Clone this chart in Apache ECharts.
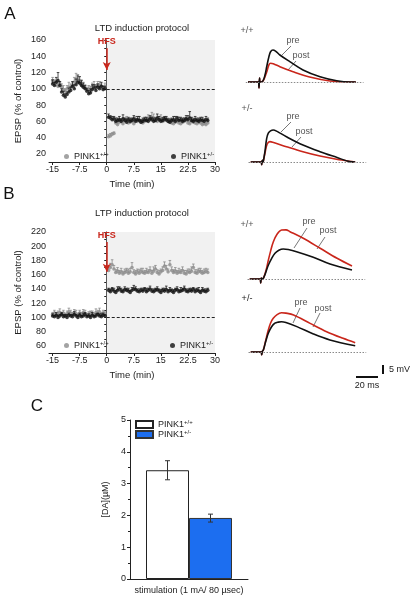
<!DOCTYPE html>
<html><head><meta charset="utf-8">
<script src="https://cdn.jsdelivr.net/npm/echarts@6/dist/echarts.min.js"></script>
<style>html,body{margin:0;padding:0;background:#fff}#c{width:414px;height:600px}</style>
</head><body><div id="c"></div>
<script>
// ---------- DATA ----------
const tPre = [-15,-14.5,-14,-13.5,-13,-12.5,-12,-11.5,-11,-10.5,-10,-9.5,-9,-8.5,-8,-7.5,-7,-6.5,-6,-5.5,-5,-4.5,-4,-3.5,-3,-2.5,-2,-1.5,-1,-0.5];
const tPost = [0.5,1,1.5,2,2.5,3,3.5,4,4.5,5,5.5,6,6.5,7,7.5,8,8.5,9,9.5,10,10.5,11,11.5,12,12.5,13,13.5,14,14.5,15,15.5,16,16.5,17,17.5,18,18.5,19,19.5,20,20.5,21,21.5,22,22.5,23,23.5,24,24.5,25,25.5,26,26.5,27,27.5,28];
const timeTicks = [-15,-7.5,0,7.5,15,22.5,30];

// LTD (panel A) values and upper error (SEM)
const ltdWtPre  = [110,108,105,103,106,102,99,97,100,102,101,104,108,112,110,107,105,103,101,99,100,98,103,104,102,105,104,102,101,103];
const ltdHetPre = [106,104,108,110,104,96,92,90,93,96,98,103,100,105,108,107,104,102,100,97,94,95,99,101,98,102,100,103,99,100];
const ltdWtPost = [41,42,44,45,58,56,59,60,57,61,62,58,59,60,57,61,60,62,59,58,60,61,63,62,65,64,61,60,62,63,60,61,62,60,59,58,57,59,60,58,57,59,60,61,58,57,60,59,58,57,59,58,56,57,56,58];
const ltdHetPost = [65,64,62,63,60,61,62,60,63,61,59,62,60,61,63,60,62,61,59,60,62,61,60,63,62,60,61,64,62,60,61,63,62,60,59,61,62,60,63,61,62,60,61,63,62,64,61,60,62,61,60,62,61,60,62,61];
const ltdWtPreErr  = [4,3,5,4,3,4,5,3,4,6,5,4,6,7,5,4,6,5,4,3,4,5,4,5,3,4,5,4,3,4];
const ltdHetPreErr = [5,4,6,10,5,4,5,4,3,5,4,6,5,7,9,8,6,5,4,3,4,5,6,4,5,4,3,5,4,3];
const ltdWtPostErr = [3,3,2,2,4,3,4,3,4,3,4,3,4,3,4,5,3,4,3,4,3,4,5,4,6,5,4,3,4,5,3,4,3,4,3,4,3,4,5,3,4,3,4,3,4,3,4,5,3,4,3,4,3,4,3,4];
const ltdHetPostErr = [4,3,4,3,4,3,4,3,5,3,4,3,4,3,4,3,4,5,3,4,3,4,3,4,3,4,3,5,4,3,4,3,4,3,4,3,4,6,3,4,3,4,3,4,5,8,4,3,4,3,4,3,4,3,4,3];

// LTP (panel B)
const ltpWtPre  = [104,106,103,105,107,104,106,103,105,108,106,104,107,105,103,106,104,107,105,103,104,106,105,103,107,106,108,104,106,105];
const ltpHetPre = [102,101,103,100,102,104,101,102,100,103,102,101,104,102,100,103,101,102,104,101,102,100,103,101,102,104,102,101,103,102];
const ltpWtPost = [166,170,174,168,163,165,162,164,161,163,165,162,164,170,163,161,164,162,165,163,162,164,163,166,162,165,168,163,161,164,166,172,168,164,174,166,163,165,162,164,163,166,162,161,164,163,165,170,163,162,165,164,162,163,165,163];
const ltpHetPost = [138,136,139,137,135,138,140,137,136,139,138,137,135,138,140,139,137,136,138,137,139,136,138,140,137,136,138,139,137,135,138,137,139,136,138,137,135,138,139,136,137,138,140,137,136,138,137,139,136,138,137,135,138,137,136,138];
const ltpWtPreErr  = [3,4,3,4,5,3,4,3,4,5,4,3,4,5,3,4,3,4,5,3,4,3,4,3,5,4,5,3,4,3];
const ltpHetPreErr = [3,2,4,3,2,3,3,2,4,3,2,3,4,2,3,3,2,4,3,2,3,3,4,2,3,2,3,4,3,2];
const ltpWtPostErr = [5,6,7,5,4,5,4,5,4,5,4,6,5,7,4,5,4,5,4,6,4,5,4,5,4,6,5,4,5,4,5,6,5,4,6,5,4,5,4,5,4,5,4,5,4,5,6,5,4,5,4,5,4,5,4,5];
const ltpHetPostErr = [3,4,3,4,3,5,3,4,3,4,3,4,3,4,5,4,3,4,3,4,3,5,3,4,3,4,3,4,3,4,3,4,5,3,4,3,4,3,4,3,5,3,4,3,4,3,4,3,4,3,5,3,4,3,4,3];

// EPSP traces [ms, mV]
const trLtdWtPre  = [[-10,0],[-0.5,0],[0,-3.3],[0.5,2.2],[1,0],[3.5,0.5],[5.5,4],[7,8.5],[9,14],[10.5,16.8],[12.7,17.8],[15,17.2],[19,15],[28,11.3],[40,6.7],[55.5,2.9],[70.6,0.7],[83,0],[88,0]];
const trLtdWtPost = [[-10,0],[-0.5,0],[0,-3.3],[0.5,2.2],[1,0],[3.5,0.5],[5.5,3],[7,5.5],[9,9.5],[10.5,10.4],[13,10.2],[19,8.5],[31,5.7],[46,2.8],[64.5,0.6],[83,0],[88,0]];
const trLtdHetPre  = [[-10,0],[-0.5,0],[0,-1.5],[0.5,1],[1,0],[1.5,0.5],[3,6],[4.5,13],[6,16],[8,17.3],[10.5,17.8],[14,17],[22.5,14],[37.5,9.4],[53,5.7],[68,2.6],[80,0.2],[85,0]];
const trLtdHetPost = [[-10,0],[-0.5,0],[0,-1.5],[0.5,1],[1,0],[1.5,0.5],[3,5],[5,10],[7.5,11.3],[10,11],[22.5,8.5],[37.5,5.7],[53,3.3],[68,1.5],[82,0.2],[85,0]];
const trLtpWtPre  = [[-10,0],[-0.5,0],[0,-2.2],[0.5,0.5],[1,0],[2.4,0.4],[4.5,3.5],[7,7.8],[10,11.5],[13,14.3],[16.5,16],[20.5,16.7],[25,16.4],[32.6,15.2],[47.8,12.1],[63,8.3],[83,5]];
const trLtpWtPost = [[-10,0],[-0.5,0],[0,-2.2],[0.5,0.5],[1,0],[2.4,0.4],[4.5,4],[7,10.6],[9,15.5],[11.5,20.7],[15,25],[19,27.2],[23,27.3],[26.6,26.3],[38.7,22.6],[54,17.1],[69.4,11.5],[83,7.2]];
const trLtpHetPre  = [[-10,0],[-0.5,0],[0,-1.5],[0.5,0.3],[1.5,1.1],[3.5,5.5],[6,10.4],[9,14],[12,16],[15,16.6],[18,16.8],[22,16.4],[32,14.1],[47,10],[62,6.7],[85,3.5]];
const trLtpHetPost = [[-10,0],[-0.5,0],[0,-1.5],[0.5,0.3],[1.5,1.1],[3.5,6],[6,12.2],[8,16],[10.5,18.7],[14,20.8],[18,21.8],[22,21.6],[29,20.6],[44,15.9],[59,11.3],[74,7.6],[85,5.2]];

// Panel C
const barCats = ['stimulation (1 mA/ 80 µsec)'];
const daWt = [3.42];
const daHet = [1.92];
const daWtErr = [3.12, 3.72];
const daHetErr = [1.79, 2.04];

// ---------- BUILD ----------
const FONT = '"Liberation Sans", Arial, sans-serif';
const GRAY = '#8c8c8c', BLACK = '#111', RED = '#c9261b', BLUE = '#1c6ef0';
const pts = (pre, post) => tPre.map((t, i) => [t, pre[i]]).concat(tPost.map((t, i) => [t, post[i]]));
const errPts = (pre, post, ePre, ePost) => tPre.map((t, i) => [t, pre[i], pre[i] + ePre[i]]).concat(tPost.map((t, i) => [t, post[i], post[i] + ePost[i]]));
const sup = {n:{fontSize:9,color:'#222',fontFamily:FONT}, s:{fontSize:6,color:'#222',fontFamily:FONT,padding:[0,0,5,0]}};
const legName = n => (n.startsWith('wt') ? '{n|PINK1}{s|+/+}' : '{n|PINK1}{s|+/-}');

function timeX(gi){
  return {type:'value', gridIndex:gi, min:-16, max:30,
    axisLine:{show:true,onZero:false,lineStyle:{color:'#222'}},
    axisTick:{show:true,customValues:timeTicks,length:3,lineStyle:{color:'#222'}},
    axisLabel:{customValues:timeTicks,fontSize:9,color:'#222',margin:3,fontFamily:FONT},
    splitLine:{show:false},
    name:'Time (min)', nameLocation:'middle', nameGap:17, nameTextStyle:{fontSize:9.5,color:'#222',fontFamily:FONT}};
}
function epspY(gi, min, max, labels){
  return {type:'value', gridIndex:gi, min:min, max:max, interval:10,
    axisLine:{show:true,lineStyle:{color:'#222'}},
    axisTick:{show:true,length:2.5,lineStyle:{color:'#222'}},
    axisLabel:{customValues:labels,fontSize:9,color:'#222',margin:3,fontFamily:FONT},
    splitLine:{show:false},
    name:'EPSP (% of control)', nameLocation:'middle', nameGap:26, nameRotate:90,
    nameTextStyle:{fontSize:9.5,color:'#222',fontFamily:FONT}};
}
function hidX(gi){ return {type:'value',gridIndex:gi,min:-12,max:95,show:false}; }
function hidY(gi){ return {type:'value',gridIndex:gi,min:-6,max:30,show:false}; }

function errSeries(ax, data, color, z){
  return {type:'custom', xAxisIndex:ax, yAxisIndex:ax, z:z, data:data, encode:{x:0, y:[1,2]}, silent:true,
    renderItem:function(params, api){
      const a = api.coord([api.value(0), api.value(1)]);
      const b = api.coord([api.value(0), api.value(2)]);
      const st = {stroke:color, lineWidth:0.8};
      return {type:'group', children:[
        {type:'line', shape:{x1:a[0],y1:a[1],x2:b[0],y2:b[1]}, style:st},
        {type:'line', shape:{x1:b[0]-1.3,y1:b[1],x2:b[0]+1.3,y2:b[1]}, style:st}
      ]};
    }};
}

function panelSeries(ax, wtPre, wtPost, hetPre, hetPost, wtE, hetE, arrowFrom, arrowTo, tag){
  return [
    errSeries(ax, errPts(wtPre, wtPost, wtE[0], wtE[1]), GRAY, 2),
    {name:'wt'+tag, type:'scatter', xAxisIndex:ax, yAxisIndex:ax, symbolSize:3.6, z:3,
     itemStyle:{color:GRAY}, data:pts(wtPre, wtPost),
     markArea:{silent:true, itemStyle:{color:'#f1f1f1'}, data:[[{xAxis:0},{xAxis:30}]]}},
    errSeries(ax, errPts(hetPre, hetPost, hetE[0], hetE[1]), '#222', 4),
    {name:'het'+tag, type:'scatter', xAxisIndex:ax, yAxisIndex:ax, symbolSize:3.6, z:5,
     itemStyle:{color:BLACK}, data:pts(hetPre, hetPost),
     markLine:{silent:true, symbol:['none','none'], animation:false,
       data:[
         [{coord:[0,100],lineStyle:{type:[3,2],color:'#222',width:1.2},label:{show:false}},{coord:[30,100]}],
         [{coord:[0,arrowFrom],symbol:'none',lineStyle:{color:RED,width:1.5,type:'solid'},
           label:{show:true,position:'start',formatter:'HFS',color:RED,fontWeight:'bold',fontSize:9,fontFamily:FONT,distance:2}},
          {coord:[0,arrowTo],symbol:'arrow',symbolSize:[6,8]}]
       ]}}
  ];
}
function traceSeries(ax, pre, post){
  return [
    {type:'line', xAxisIndex:ax, yAxisIndex:ax, data:post, smooth:0.35, symbol:'none', z:3,
     lineStyle:{color:RED,width:1.6},
     markLine:{silent:true,symbol:'none',label:{show:false},lineStyle:{type:[1.5,1.5],color:'#8a8a8a',width:1},data:[{yAxis:0}],animation:false}},
    {type:'line', xAxisIndex:ax, yAxisIndex:ax, data:pre, smooth:0.35, symbol:'none', z:4,
     lineStyle:{color:BLACK,width:1.6}}
  ];
}

const txt = (x, y, t, o) => ({type:'text', x:x, y:y, style:Object.assign({text:t, fontSize:9, fill:'#555', fontFamily:FONT, align:'center', verticalAlign:'middle'}, o||{})});
const ln = (x1, y1, x2, y2, c, w) => ({type:'line', shape:{x1:x1,y1:y1,x2:x2,y2:y2}, style:{stroke:c||'#777', lineWidth:w||1}});
const leg = (names, left, top, extra) => Object.assign({data:names, left:left, top:top, padding:0, icon:'circle', itemWidth:5, itemHeight:5,
  formatter:legName, textStyle:{rich:sup}, selectedMode:false}, extra||{});

const option = {
  animation:false,
  textStyle:{fontFamily:FONT},
  grid:[
    {left:49, top:40, width:166, height:122},
    {left:49, top:232, width:166, height:121},
    {left:130, top:420, width:118, height:159},
    {left:245.8, top:28, width:117.7, height:64.8},
    {left:248.5, top:108, width:117.7, height:64.8},
    {left:247.5, top:225, width:117.7, height:64.8},
    {left:248.5, top:298, width:117.7, height:64.8}
  ],
  xAxis:[
    timeX(0), timeX(1),
    {type:'category', gridIndex:2, data:barCats,
     axisLine:{show:true,lineStyle:{color:'#222'}}, axisTick:{show:false},
     axisLabel:{fontSize:9,color:'#222',margin:7,fontFamily:FONT}},
    hidX(3), hidX(4), hidX(5), hidX(6)
  ],
  yAxis:[
    epspY(0, 10, 160, [20,40,60,80,100,120,140,160]),
    epspY(1, 50, 220, [60,80,100,120,140,160,180,200,220]),
    {type:'value', gridIndex:2, min:0, max:5, interval:1,
     axisLine:{show:true,lineStyle:{color:'#222'}},
     axisTick:{show:true,length:3,lineStyle:{color:'#222'}},
     minorTick:{show:true,splitNumber:2,length:2,lineStyle:{color:'#222'}},
     axisLabel:{fontSize:9,color:'#222',margin:4,fontFamily:FONT},
     splitLine:{show:false},
     name:'[DA](µM)', nameLocation:'middle', nameGap:20, nameRotate:90,
     nameTextStyle:{fontSize:9,color:'#222',fontFamily:FONT}},
    hidY(3), hidY(4), hidY(5), hidY(6)
  ],
  legend:[
    leg(['wtA'], 64, 151),
    leg(['hetA'], 171, 151),
    leg(['wtB'], 64, 340),
    leg(['hetB'], 170, 340),
    leg(['wtC','hetC'], 135, 419, {orient:'vertical', icon:'rect', itemWidth:17, itemHeight:7, itemGap:0})
  ],
  series:[
    ...panelSeries(0, ltdWtPre, ltdWtPost, ltdHetPre, ltdHetPost, [ltdWtPreErr, ltdWtPostErr], [ltdHetPreErr, ltdHetPostErr], 150, 123, 'A'),
    ...panelSeries(1, ltpWtPre, ltpWtPost, ltpHetPre, ltpHetPost, [ltpWtPreErr, ltpWtPostErr], [ltpHetPreErr, ltpHetPostErr], 206, 164, 'B'),
    {name:'wtC', type:'bar', xAxisIndex:2, yAxisIndex:2, data:daWt, barWidth:43, barGap:'0%',
     itemStyle:{color:'#fff', borderColor:'#222', borderWidth:1}},
    {name:'hetC', type:'bar', xAxisIndex:2, yAxisIndex:2, data:daHet, barWidth:43, barGap:'0%',
     itemStyle:{color:BLUE, borderColor:'#333', borderWidth:1}},
    {type:'custom', xAxisIndex:2, yAxisIndex:2, z:5,
     data:[[0, daWtErr[0], daWtErr[1], -1],[0, daHetErr[0], daHetErr[1], 1]],
     encode:{x:0, y:[1,2]},
     renderItem:function(params, api){
       const lo = api.coord([api.value(0), api.value(1)]);
       const hi = api.coord([api.value(0), api.value(2)]);
       const x = lo[0] + api.value(3) * 21.5;
       const st = {stroke:'#333', lineWidth:1};
       return {type:'group', children:[
         {type:'line', shape:{x1:x,y1:lo[1],x2:x,y2:hi[1]}, style:st},
         {type:'line', shape:{x1:x-2.5,y1:lo[1],x2:x+2.5,y2:lo[1]}, style:st},
         {type:'line', shape:{x1:x-2.5,y1:hi[1],x2:x+2.5,y2:hi[1]}, style:st}
       ]};
     }},
    ...traceSeries(3, trLtdWtPre, trLtdWtPost),
    ...traceSeries(4, trLtdHetPre, trLtdHetPost),
    ...traceSeries(5, trLtpWtPre, trLtpWtPost),
    ...traceSeries(6, trLtpHetPre, trLtpHetPost)
  ],
  graphic:[
    txt(10, 14, 'A', {fontSize:17, fill:'#111'}),
    txt(9, 194, 'B', {fontSize:17, fill:'#111'}),
    txt(37, 406, 'C', {fontSize:17, fill:'#111'}),
    txt(142, 28, 'LTD induction protocol', {fontSize:9.5, fill:'#222'}),
    txt(142, 213, 'LTP induction protocol', {fontSize:9.5, fill:'#222'}),
    // trace annotations A
    txt(247, 31, '+/+', {fill:'#555'}),
    txt(293, 41, 'pre'), ln(291, 46, 282, 55),
    txt(301, 56, 'post'), ln(296, 61, 288, 70),
    txt(247, 109, '+/-', {fill:'#555'}),
    txt(293, 117, 'pre'), ln(291, 122, 281, 132),
    txt(304, 132, 'post'), ln(301, 137, 292, 147),
    // trace annotations B
    txt(247, 225, '+/+', {fill:'#555'}),
    txt(309, 222, 'pre'), ln(307, 228, 294, 248),
    txt(328, 231, 'post'), ln(325, 237, 317, 249),
    txt(247, 299, '+/-', {fill:'#222'}),
    txt(301, 303, 'pre'), ln(300, 308, 293, 323),
    txt(323, 309, 'post'), ln(320, 313, 313, 327),
    // scale bar
    ln(383, 365, 383, 374, '#111', 2),
    txt(389, 369.5, '5 mV', {align:'left', fill:'#222'}),
    ln(356, 377, 378, 377, '#111', 2),
    txt(367, 386, '20 ms', {fill:'#222'})
  ]
};
const chart = echarts.init(document.getElementById('c'), null, {renderer:'canvas'});
chart.setOption(option);
</script></body></html>
